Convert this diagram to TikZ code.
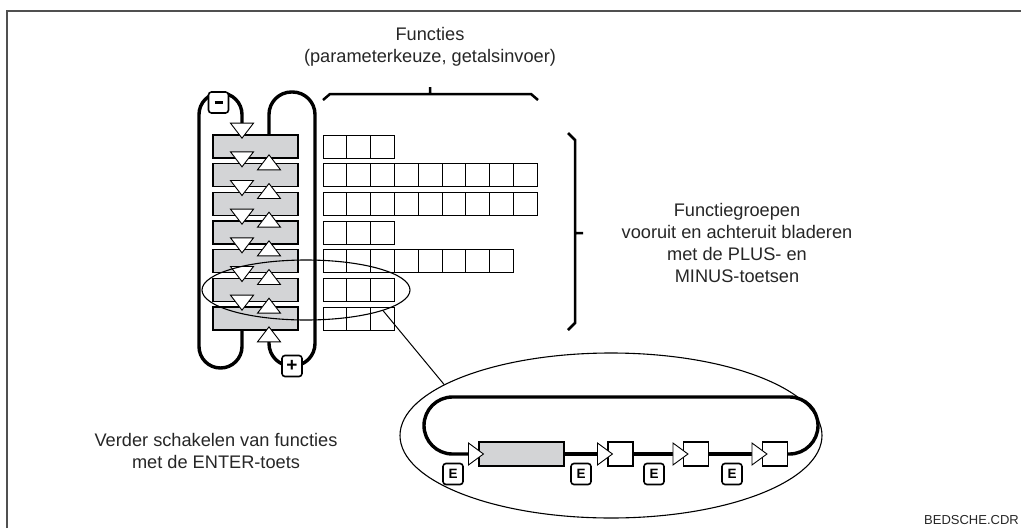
\documentclass[tikz,border=0pt]{standalone}
\usepackage{fontspec}
\setmainfont{Liberation Sans}
\usetikzlibrary{shapes.geometric}
\definecolor{boxgray}{HTML}{D3D4D6}
\definecolor{textgray}{HTML}{262626}
\definecolor{framegray}{HTML}{505050}
\tikzset{
  loopline/.style={draw, line width=3.4pt},
  brace/.style={draw, line width=2.5pt},
  tri/.style={draw, fill=white, line width=0.9pt},
  frameline/.style={draw=framegray, line width=1.6pt}
}
\begin{document}
\begin{tikzpicture}[x=1pt, y=-1pt, font=\fontsize{18.2}{21.7}\selectfont, text=textgray]

  \useasboundingbox (0,0) rectangle (1021,528);
  \draw[frameline] (7,528) -- (7,11) -- (1021,11);

  \draw[loopline, rounded corners=21.5pt] (242,124) -- (242,93) -- (199,93) -- (199,368) -- (242,368) -- (242,328);
  \draw[loopline, rounded corners=22.5pt] (269,137) -- (269,92) -- (315,92) -- (315,366) -- (269,366) -- (269,341);

  \begin{scope}[every node/.style={draw, inner sep=0pt, minimum height=23pt}]
    \foreach \n [count=\i] in {3,9,9,3,8,3,3} {
      \node[fill=boxgray, line width=1.1pt, minimum width=85pt] (g\i) at (255.5,{146.5+(\i-1)*28.67}) {};
      \foreach \j in {1,...,\n}
        \node[fill=white, line width=0.9pt, minimum width=23.8pt] (c\i-\j) at ({323+(\j-0.5)*23.8},{146.5+(\i-1)*28.67}) {};
    }
  \end{scope}

  \foreach \i in {0,...,6}
    \filldraw[tri] (230.5,{132.17+\i*28.67-9}) -- (253.5,{132.17+\i*28.67-9}) -- (242,{132.17+\i*28.67+6}) -- cycle;
  \foreach \i in {1,...,7}
    \filldraw[tri] (257.5,{132.17+\i*28.67+9}) -- (280.5,{132.17+\i*28.67+9}) -- (269,{132.17+\i*28.67-6}) -- cycle;

  \draw[brace] (323,100) -- (330,94) -- (531,94) -- (538,100) (430,94) -- (430,87);
  \draw[brace] (568,133) -- (575,140) -- (575,323) -- (568,330) (575,233) -- (583,233);

  \node[draw, ellipse, line width=1.1pt, minimum width=208pt, minimum height=60pt, inner sep=0pt] (sel) at (306,290) {};
  \node[draw, ellipse, line width=1.1pt, minimum width=422pt, minimum height=165pt, inner sep=0pt] (zoom) at (611,435.5) {};
  \draw[line width=1pt] (sel.-15) -- (zoom.163);

  \begin{scope}[every node/.style={draw, inner sep=0pt, minimum height=24pt, line width=1.1pt}]
    \node[fill=boxgray, minimum width=85pt] (fb) at (521.5,454) {};
    \node[fill=white, minimum width=25pt] (f1) at (620.5,454) {};
    \node[fill=white, minimum width=25pt] (f2) at (696,454) {};
    \node[fill=white, minimum width=25pt] (f3) at (775,454) {};
  \end{scope}

  \draw[loopline, rounded corners=28.5pt] (fb.west) -- (424,454) -- (424,397) -- (818,397) -- (818,454) -- (f3.east);
  \path (fb) edge[loopline] (f1)
        (f1) edge[loopline] (f2)
        (f2) edge[loopline] (f3);
  \foreach \b in {fb,f1,f2,f3}
    \filldraw[tri] ([xshift=-10pt,yshift=11pt]\b.west) -- ([xshift=5pt]\b.west) -- ([xshift=-10pt,yshift=-11pt]\b.west) -- cycle;

  \begin{scope}[every node/.style={draw, fill=white, line width=1.6pt, rounded corners=3pt, minimum width=20pt, minimum height=21pt, inner sep=0pt, text=black, font=\bfseries\fontsize{13.5}{13.5}\selectfont}]
    \node (minus) at (218.5,102.5) {\rule{8pt}{3pt}};
    \node (plus) at (292,366) {\fontsize{19}{19}\selectfont +};
    \foreach \x [count=\k] in {453,581,654,732}
      \node (e\k) at (\x,474) {E};
  \end{scope}

  \node[align=center] (fun) at (430,47) {Functies\\(parameterkeuze, getalsinvoer)};
  \node[align=center] (grp) at (737,243) {Functiegroepen\\vooruit en achteruit bladeren\\met de PLUS- en\\MINUS-toetsen};
  \node[align=center] (ent) at (216,451) {Verder schakelen van functies\\met de ENTER-toets};
  \node[anchor=east, inner sep=0pt, font=\fontsize{13}{15}\selectfont] (file) at (1019,520) {BEDSCHE.CDR};

\end{tikzpicture}
\end{document}
